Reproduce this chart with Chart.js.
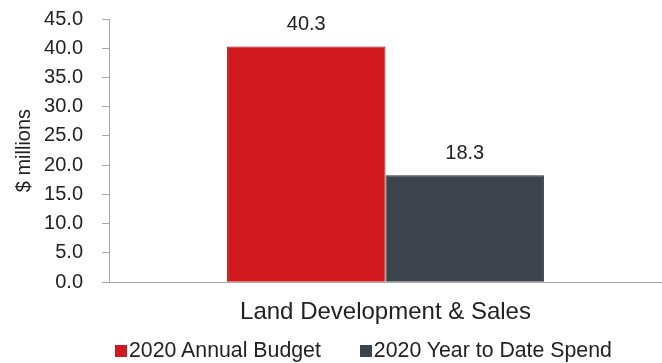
<!DOCTYPE html>
<html>
<head>
<meta charset="utf-8">
<script src="https://cdn.jsdelivr.net/npm/chart.js@4.4.1/dist/chart.umd.min.js"></script>
<style>
  body { margin: 0; background: #fff; }
  #wrap { position: relative; width: 662px; height: 363px; }
  #legend {
    position: absolute; left: 115px; top: 340px;
    display: flex; font: 21.3px "Liberation Sans", Arial, sans-serif;
    line-height: 21px; color: #222; white-space: nowrap;
  }
  #legend .item { display: flex; align-items: center; margin-right: 39px; }
  #legend .box { width: 12px; height: 12px; margin-right: 2px; }
</style>
</head>
<body>
<div id="wrap">
  <canvas id="chart" width="662" height="363"></canvas>
  <div id="legend"></div>
</div>
<script>
const categories = ['Land Development & Sales'];
const seriesNames = ['2020 Annual Budget', '2020 Year to Date Spend'];
const budget = [40.3];
const ytdSpend = [18.3];
const yTicks = [0, 5, 10, 15, 20, 25, 30, 35, 40, 45];

const colors = ['#d11a1f', '#3d434d'];
const borders = ['#a81216', '#2b3038'];
const font = '"Liberation Sans", Arial, sans-serif';

// writes the value above each bar
const valueLabels = {
    id: 'valueLabels',
    afterDatasetsDraw(chart) {
        const ctx = chart.ctx;
        ctx.save();
        ctx.font = '20px ' + font;
        ctx.fillStyle = '#222';
        ctx.textAlign = 'center';
        ctx.textBaseline = 'alphabetic';
        chart.data.datasets.forEach((ds, i) => {
            chart.getDatasetMeta(i).data.forEach((bar, j) => {
                ctx.fillText(ds.data[j].toFixed(1), bar.x, bar.y - 16);
            });
        });
        ctx.restore();
    }
};

const ctx = document.getElementById('chart').getContext('2d');
const chart = new Chart(ctx, {
    type: 'bar',
    data: {
        labels: categories,
        datasets: [budget, ytdSpend].map((d, i) => ({
            label: seriesNames[i],
            data: d,
            backgroundColor: colors[i],
            borderColor: borders[i],
            borderWidth: 1,
            barPercentage: 1,
            categoryPercentage: 0.573
        }))
    },
    options: {
        responsive: false,
        animation: false,
        layout: { padding: { top: 19, right: 0, bottom: 32, left: 0 } },
        plugins: {
            legend: { display: false },
            tooltip: { enabled: false }
        },
        scales: {
            x: {
                grid: { display: false },
                border: { color: '#a6a6a6', width: 1 },
                ticks: { display: false },
                title: {
                    display: true,
                    text: categories[0],
                    color: '#222',
                    font: { family: font, size: 24 },
                    padding: { top: 8, bottom: 4 }
                }
            },
            y: {
                min: 0,
                max: 45,
                afterBuildTicks: axis => { axis.ticks = yTicks.map(v => ({ value: v })); },
                afterFit: axis => {
                    axis.width = 109;
                    axis.paddingTop = 0;
                    axis.paddingBottom = 0;
                },
                grid: { drawOnChartArea: false, drawTicks: true, tickLength: 7, color: '#a6a6a6' },
                border: { color: '#a6a6a6', width: 1 },
                ticks: {
                    autoSkip: false,
                    padding: 19,
                    color: '#222',
                    font: { family: font, size: 20 },
                    callback: v => v.toFixed(1)
                },
                title: {
                    display: true,
                    text: '$ millions',
                    color: '#222',
                    font: { family: font, size: 20 },
                    padding: { top: 12, bottom: 8 }
                }
            }
        }
    },
    plugins: [valueLabels]
});

// legend below the chart
const legend = document.getElementById('legend');
seriesNames.forEach((name, i) => {
    const item = document.createElement('div');
    item.className = 'item';
    const box = document.createElement('span');
    box.className = 'box';
    box.style.background = colors[i];
    const text = document.createElement('span');
    text.textContent = name;
    item.appendChild(box);
    item.appendChild(text);
    legend.appendChild(item);
});
</script>
</body>
</html>
